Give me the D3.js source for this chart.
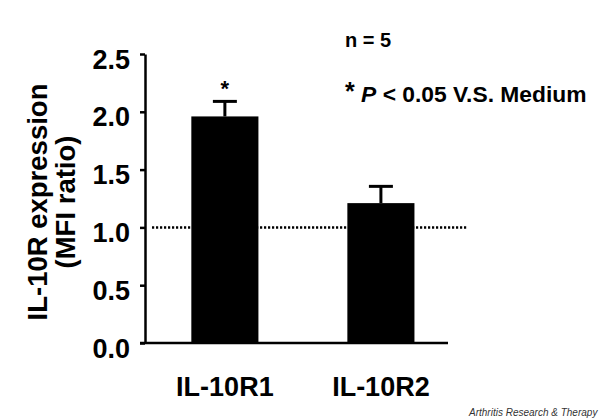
<!DOCTYPE html>
<html>
<head>
<meta charset="utf-8">
<title>IL-10R expression</title>
<script src="https://cdn.jsdelivr.net/npm/d3@7"></script>
<style>
  body { margin: 0; background: #fff; }
  svg { display: block; font-family: "Liberation Sans", Arial, sans-serif; }
  .axis text { font-weight: bold; font-size: 27px; fill: #000; }
  .axis path, .axis line { stroke: #000; stroke-width: 2.5; }
</style>
</head>
<body>
<div id="chart"></div>
<script>
// ---- data ----
const categories = ["IL-10R1", "IL-10R2"];
const means = [1.96, 1.21];
const errUp = [0.13, 0.145];
const significant = [true, false];
const yTicks = [0, 0.5, 1.0, 1.5, 2.0, 2.5];
const refLevel = [1.0];

const width = 600, height = 420;

const svg = d3.select("#chart").append("svg")
    .attr("width", width)
    .attr("height", height);

// scales
const y = d3.scaleLinear().domain([0, 2.5]).range([343, 54]);
const x = d3.scaleBand()
    .domain(categories)
    .range([145, 448])
    .paddingInner(0.57)
    .paddingOuter(0.256)
    .align(0.58);

const rows = categories.map((c, i) => ({ cat: c, mean: means[i], err: errUp[i], sig: significant[i] }));

// dotted reference line at 1.0 (behind bars)
svg.selectAll(".ref")
    .data(refLevel)
    .enter().append("line")
    .attr("class", "ref")
    .attr("x1", 152).attr("x2", 468)
    .attr("y1", d => y(d)).attr("y2", d => y(d))
    .attr("stroke", "#000")
    .attr("stroke-width", 2.5)
    .attr("stroke-dasharray", "2.2,1.8");

// bars
svg.selectAll(".bar")
    .data(rows)
    .enter().append("rect")
    .attr("class", "bar")
    .attr("x", d => x(d.cat))
    .attr("width", x.bandwidth())
    .attr("y", d => y(d.mean))
    .attr("height", d => y(0) - y(d.mean))
    .attr("fill", "#000");

// error bars (upper only)
const eb = svg.selectAll(".err").data(rows).enter().append("g").attr("class", "err");
eb.append("line")
    .attr("x1", d => x(d.cat) + x.bandwidth() / 2)
    .attr("x2", d => x(d.cat) + x.bandwidth() / 2)
    .attr("y1", d => y(d.mean))
    .attr("y2", d => y(d.mean + d.err))
    .attr("stroke", "#000").attr("stroke-width", 3);
eb.append("line")
    .attr("x1", d => x(d.cat) + x.bandwidth() / 2 - 12)
    .attr("x2", d => x(d.cat) + x.bandwidth() / 2 + 12)
    .attr("y1", d => y(d.mean + d.err))
    .attr("y2", d => y(d.mean + d.err))
    .attr("stroke", "#000").attr("stroke-width", 3);

// significance star
svg.selectAll(".star")
    .data(rows.filter(d => d.sig))
    .enter().append("text")
    .attr("class", "star")
    .attr("x", d => x(d.cat) + x.bandwidth() / 2)
    .attr("y", d => y(d.mean + d.err) - 5)
    .attr("text-anchor", "middle")
    .attr("font-weight", "bold")
    .attr("font-size", 22)
    .text("*");

// y axis
const yAxis = svg.append("g")
    .attr("class", "axis")
    .attr("transform", "translate(145,0)")
    .call(d3.axisLeft(y).tickValues(yTicks).tickFormat(d3.format(".1f")).tickSize(5).tickPadding(10).tickSizeOuter(0));
yAxis.selectAll("text").attr("dy", "0.52em");

// x axis
const xAxis = svg.append("g")
    .attr("class", "axis")
    .attr("transform", "translate(0," + y(0) + ")")
    .call(d3.axisBottom(x).tickSize(0).tickPadding(30).tickSizeOuter(0));
xAxis.select(".domain").attr("d", "M140,0H448");
xAxis.selectAll("text").attr("dy", "0.85em");

// y title
const yt = svg.append("text")
    .attr("transform", "translate(47,202) rotate(-90)")
    .attr("text-anchor", "middle")
    .attr("font-weight", "bold")
    .attr("font-size", 27.5);
yt.append("tspan").attr("x", 0).attr("y", 0).text("IL-10R expression");
yt.append("tspan").attr("x", 0).attr("y", 28).text("(MFI ratio)");

// annotations
svg.append("text")
    .attr("x", 345).attr("y", 47)
    .attr("font-weight", "bold")
    .attr("font-size", 20)
    .text("n = 5");

const note = svg.append("text")
    .attr("x", 345).attr("y", 102)
    .attr("font-weight", "bold")
    .attr("font-size", 22.8);
note.append("tspan").attr("font-size", 25).attr("dy", -2).text("*");
note.append("tspan").attr("dy", 2).text(" ");
note.append("tspan").attr("font-style", "italic").text("P");
note.append("tspan").text(" < 0.05 V.S. Medium");

// source credit
svg.append("text")
    .attr("x", 469).attr("y", 416)
    .attr("font-style", "italic")
    .attr("font-size", 10)
    .attr("fill", "#333")
    .text("Arthritis Research & Therapy");
</script>
</body>
</html>
